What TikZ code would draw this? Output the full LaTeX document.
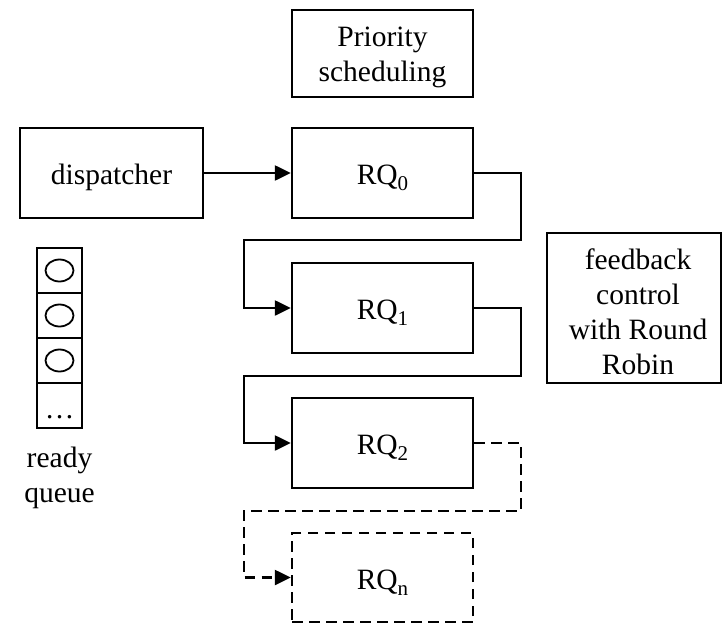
\documentclass[tikz,border=0pt]{standalone}
\usepackage{fontspec}
\setmainfont{Liberation Serif}
\usetikzlibrary{arrows.meta,shapes.geometric}
\newcommand\rqsub[1]{\raisebox{-6pt}{\fontsize{21}{21}\selectfont #1}}
\begin{document}
\begin{tikzpicture}[x=1pt,y=-1pt,
  every node/.style={font=\fontsize{29.5}{35}\selectfont},
  box/.style={draw, line width=2.4pt, rectangle, inner sep=0pt, align=center},
  onebox/.style={box, text height=23pt, text depth=0pt},
  rqbox/.style={onebox, minimum width=181pt, minimum height=90pt},
  cell/.style={draw, line width=2.2pt, rectangle, inner sep=0pt, minimum width=45pt, minimum height=45pt},
  flow/.style={line width=2.4pt, -{Triangle[length=16pt,width=15pt]}},
  dashflow/.style={flow, dash pattern=on 10.5pt off 6.5pt},
  token/.style={draw, line width=1.8pt, ellipse, minimum width=28pt, minimum height=22pt, inner sep=0pt},
  caption/.style={align=center, inner sep=0pt}
]
\useasboundingbox (0,0) rectangle (722,623);

% scheduler blocks
\node[box, minimum width=181pt, minimum height=87pt] (prio) at (382.5,53.5) {};
\node[caption] (priotext) at (382.5,57.5) {Priority\\scheduling};
\node[onebox, minimum width=183pt, minimum height=90pt, text height=22pt] (disp) at (111.5,173) {dispatcher};
\node[rqbox] (rq0) at (382.5,173) {RQ\rqsub{0}};
\node[rqbox] (rq1) at (382.5,308) {RQ\rqsub{1}};
\node[rqbox] (rq2) at (382.5,443) {RQ\rqsub{2}};
\node[rqbox, minimum height=89pt, dash pattern=on 10.5pt off 6.5pt] (rqn) at (382.5,577.5) {RQ\rqsub{n}};
\node[box, minimum width=174pt, minimum height=150pt] (fb) at (634,308) {};
\node[caption] (fbtext) at (638,312) {feedback\\control\\with Round\\Robin};

% ready queue
\node[cell] (q1) at (59.5,270.5) {};
\node[cell] (q2) at (59.5,315.5) {};
\node[cell] (q3) at (59.5,360.5) {};
\node[cell] (q4) at (59.5,405.5) {};
\node[token] (p1) at (q1.center) {};
\node[token] (p2) at (q2.center) {};
\node[token] (p3) at (q3.center) {};
\node[anchor=base, inner sep=0pt] (dots) at (59.5,418) {\ldots};
\node[caption] (rqlabel) at (59.5,477.5) {ready\\queue};

% turning points of the feedback chain
\coordinate (a1) at (521,240);
\coordinate (a2) at (244,240);
\coordinate (b1) at (521,376);
\coordinate (b2) at (244,376);
\coordinate (c1) at (521,511);
\coordinate (c2) at (244,511);

% connectors
\draw[flow] (disp.east) -- (rq0.west);
\draw[flow] (rq0.east) -| (a1) -- (a2) |- (rq1.west);
\draw[flow] (rq1.east) -| (b1) -- (b2) |- (rq2.west);
\draw[dashflow] (rq2.east) -| (c1) -- (c2) |- (rqn.west);
\end{tikzpicture}
\end{document}
